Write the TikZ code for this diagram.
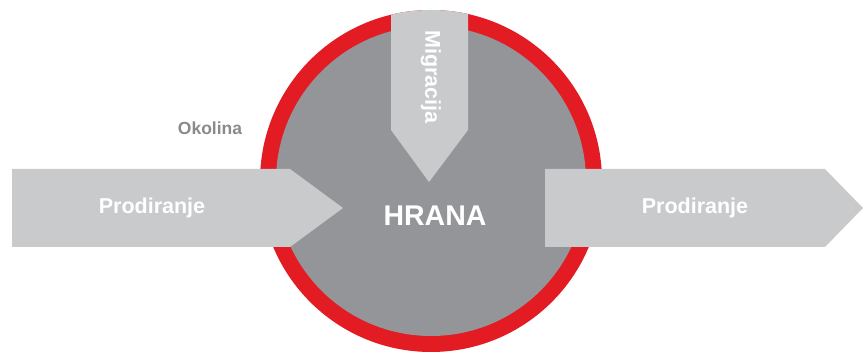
\documentclass[tikz,border=0pt]{standalone}
\usepackage{fontspec}
\setmainfont{Liberation Sans}
\definecolor{ringred}{HTML}{E31B23}
\definecolor{foodgray}{HTML}{939598}
\definecolor{arrowgray}{HTML}{C9CACC}
\definecolor{labelgray}{HTML}{8A8A8A}
\tikzset{
  arrowshape/.style={fill=arrowgray, draw=none},
  arrowtext/.style={text=white, font=\bfseries\fontsize{21.5}{22}\selectfont, inner sep=0pt},
}
\begin{document}
\begin{tikzpicture}[x=1pt,y=1pt]
\useasboundingbox (0,0) rectangle (863,353);
\coordinate (c) at (431,172);
% ring and food disc
\fill[ringred] (c) circle[radius=171];
\fill[foodgray] (c) circle[radius=155];
% migration arrow, clipped to outer circle
\begin{scope}
  \clip (c) circle[radius=171];
  \fill[arrowgray] (391,353) -- (468,353) -- (468,223) -- (429,171) -- (391,223) -- cycle;
\end{scope}
% left and right arrows
\fill[arrowshape] (12,184) -- (290,184) -- (343,145) -- (290,106) -- (12,106) -- cycle;
\fill[arrowshape] (545,184) -- (825,184) -- (863,145) -- (825,106) -- (545,106) -- cycle;
% labels
\node[arrowtext, anchor=base] (pin) at (152,139) {Prodiranje};
\node[arrowtext, anchor=base] (pout) at (695,139) {Prodiranje};
\node[arrowtext, rotate=-90] (mig) at (431,276) {Migracija};
\node[text=white, font=\bfseries\fontsize{28.5}{29}\selectfont, inner sep=0pt, anchor=base] (food) at (435,127) {HRANA};
\node[text=labelgray, font=\bfseries\fontsize{17.5}{18}\selectfont, inner sep=0pt, anchor=base] (env) at (210,218) {Okolina};
\end{tikzpicture}
\end{document}
